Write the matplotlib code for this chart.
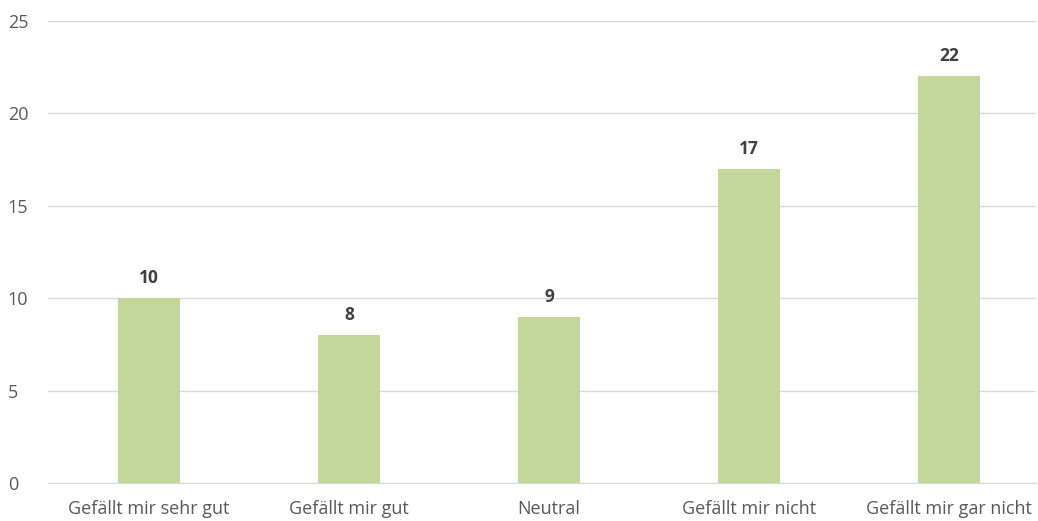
import matplotlib
matplotlib.use("Agg")
import matplotlib.pyplot as plt

categories = ["Gefällt mir sehr gut", "Gefällt mir gut", "Neutral",
              "Gefällt mir nicht", "Gefällt mir gar nicht"]
counts = [10, 8, 9, 17, 22]
yTicks = [0, 5, 10, 15, 20, 25]

plt.rcParams['font.family'] = ['Open Sans', 'DejaVu Sans']

fig = plt.figure(figsize=(10.38, 5.21), dpi=100)
ax = fig.add_axes([48 / 1038, 38 / 521, (1036 - 48) / 1038, (483 - 21) / 521])

positions = list(range(len(categories)))
bars = ax.bar(positions, counts, width=0.31, color='#C4D79B', zorder=3)

for rect, value in zip(bars, counts):
    ax.annotate(str(value), (rect.get_x() + rect.get_width() / 2, value),
                xytext=(0, 8), textcoords='offset points', ha='center', va='bottom',
                fontsize=12.5, fontweight='bold', color='#404040')

ax.set_xlim(-0.505, 4.435)
ax.set_ylim(0, 25)
ax.set_yticks(yTicks)
ax.set_xticks(positions)
ax.set_xticklabels(categories)
ax.grid(axis='y', color='#D9D9D9', linewidth=1, zorder=0)
for side in ['top', 'right', 'left']:
    ax.spines[side].set_visible(False)
ax.spines['bottom'].set_color('#D9D9D9')
ax.tick_params(axis='both', length=0, labelsize=13, colors='#595959')
ax.tick_params(axis='x', pad=12)
ax.tick_params(axis='y', pad=29)
for lbl in ax.get_yticklabels():
    lbl.set_horizontalalignment('left')

fig.savefig("out.png", dpi=100)
